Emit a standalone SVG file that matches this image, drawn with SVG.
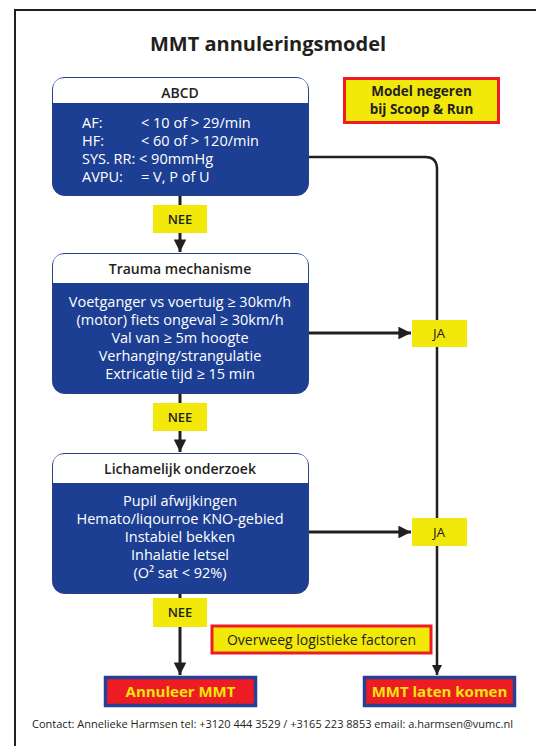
<svg xmlns="http://www.w3.org/2000/svg" width="536" height="746" viewBox="0 0 536 746">
<defs>
<style>
text{font-family:"Open Sans","DejaVu Sans",sans-serif;}
.title{font-size:20px;font-weight:bold;fill:#231f20;text-anchor:middle;}
.hdr{font-size:14px;font-weight:600;fill:#231f20;text-anchor:middle;}
.body{font-size:14.5px;fill:#ffffff;}
.c{text-anchor:middle;}
.box{fill:#1d3f93;stroke:#2a3f8a;stroke-width:1;}
.head{fill:#ffffff;}
.lbl{fill:#f2e90a;}
.lbltxt{font-size:13px;font-weight:600;fill:#231f20;text-anchor:middle;}
.ja{font-size:13.5px;fill:#231f20;text-anchor:middle;}
.warn{fill:#f2e90a;stroke:#ed1c24;stroke-width:3;}
.warntxt{font-size:13.5px;font-weight:bold;fill:#231f20;text-anchor:middle;}
.ovtxt{font-size:14px;fill:#231f20;text-anchor:middle;}
.end{fill:#ed1c24;stroke:#283f96;stroke-width:3.5;}
.endtxt{font-size:15px;font-weight:bold;fill:#f5e50a;text-anchor:middle;}
.ln{fill:none;stroke:#231f20;stroke-width:3;}
.ln2{fill:none;stroke:#231f20;stroke-width:2.5;}
</style>
<marker id="ah" viewBox="0 0 10 10" refX="10" refY="5" markerWidth="4.2" markerHeight="4.2" markerUnits="strokeWidth" orient="auto">
<path d="M0,0 L10,5 L0,10 Z" fill="#231f20"/>
</marker>
</defs>
<rect width="536" height="746" fill="#ffffff"/>
<path d="M15,746 L15,10 L536,10" fill="none" stroke="#231f20" stroke-width="2"/>
<text class="title" x="268" y="51">MMT annuleringsmodel</text>

<g id="connectors">
<path class="ln" d="M180,195 L180,206"/>
<path class="ln" d="M180,232 L180,252" marker-end="url(#ah)"/>
<path class="ln" d="M180,393 L180,404"/>
<path class="ln" d="M180,430 L180,452" marker-end="url(#ah)"/>
<path class="ln" d="M180,593 L180,599"/>
<path class="ln" d="M180,626 L180,675" marker-end="url(#ah)"/>
<path class="ln2" d="M309,157 L425,157 Q437,157 437,169 L437,675" marker-end="url(#ah)"/>
<path class="ln" d="M309,333 L411,333" marker-end="url(#ah)"/>
<path class="ln" d="M309,532 L411,532" marker-end="url(#ah)"/>
</g>

<g id="abcd">
<rect class="box" x="52.5" y="77.5" width="256" height="118" rx="12"/>
<path class="head" d="M53,103 L53,90 Q53,78 65,78 L296,78 Q308,78 308,90 L308,103 Z"/>
<text class="hdr" x="180" y="98">ABCD</text>
<text class="body" x="82" y="128">AF:</text><text class="body" x="141" y="128">&lt; 10 of &gt; 29/min</text>
<text class="body" x="82" y="146">HF:</text><text class="body" x="141" y="146">&lt; 60 of &gt; 120/min</text>
<text class="body" x="82" y="164">SYS. RR: &lt; 90mmHg</text>
<text class="body" x="82" y="182">AVPU:</text><text class="body" x="141" y="182">= V, P of U</text>
</g>

<g id="trauma">
<rect class="box" x="52.5" y="253.5" width="256" height="140" rx="12"/>
<path class="head" d="M53,283 L53,266 Q53,254 65,254 L296,254 Q308,254 308,266 L308,283 Z"/>
<text class="hdr" x="180" y="274">Trauma mechanisme</text>
<text class="body c" x="180" y="307">Voetganger vs voertuig ≥ 30km/h</text>
<text class="body c" x="180" y="325">(motor) fiets ongeval ≥ 30km/h</text>
<text class="body c" x="180" y="343">Val van ≥ 5m hoogte</text>
<text class="body c" x="180" y="361">Verhanging/strangulatie</text>
<text class="body c" x="180" y="379">Extricatie tijd ≥ 15 min</text>
</g>

<g id="lichamelijk">
<rect class="box" x="52.5" y="453.5" width="256" height="140" rx="12"/>
<path class="head" d="M53,483 L53,466 Q53,454 65,454 L296,454 Q308,454 308,466 L308,483 Z"/>
<text class="hdr" x="180" y="474">Lichamelijk onderzoek</text>
<text class="body c" x="180" y="506">Pupil afwijkingen</text>
<text class="body c" x="180" y="524">Hemato/liqourroe KNO-gebied</text>
<text class="body c" x="180" y="542">Instabiel bekken</text>
<text class="body c" x="180" y="560">Inhalatie letsel</text>
<text class="body c" x="180" y="578">(O² sat &lt; 92%)</text>
</g>

<g id="nee1"><rect class="lbl" x="153" y="205" width="54" height="28"/><text class="lbltxt" x="180" y="224">NEE</text></g>
<g id="nee2"><rect class="lbl" x="153" y="403" width="54" height="28"/><text class="lbltxt" x="180" y="422">NEE</text></g>
<g id="nee3"><rect class="lbl" x="153" y="598" width="54" height="29"/><text class="lbltxt" x="180" y="617">NEE</text></g>
<g id="ja1"><rect class="lbl" x="412" y="320" width="55" height="27"/><text class="ja" x="439" y="338">JA</text></g>
<g id="ja2"><rect class="lbl" x="412" y="518" width="55" height="28"/><text class="ja" x="439" y="537">JA</text></g>

<g id="model-negeren">
<rect class="warn" x="344.5" y="78.5" width="154" height="44"/>
<text class="warntxt" x="421.5" y="96">Model negeren</text>
<text class="warntxt" x="421.5" y="114">bij Scoop &amp; Run</text>
</g>

<g id="overweeg">
<rect class="warn" x="212" y="626" width="219" height="27" stroke-width="2.5"/>
<text class="ovtxt" x="321.5" y="645">Overweeg logistieke factoren</text>
</g>

<g id="annuleer">
<rect class="end" x="105.5" y="677.5" width="150" height="28"/>
<text class="endtxt" x="180.5" y="697">Annuleer MMT</text>
</g>

<g id="laten-komen">
<rect class="end" x="364.5" y="677.5" width="150" height="28"/>
<text class="endtxt" x="439.5" y="697">MMT laten komen</text>
</g>

<text x="32" y="728" font-size="11" fill="#231f20" textLength="481" lengthAdjust="spacingAndGlyphs">Contact: Annelieke Harmsen tel: +3120 444 3529 / +3165 223 8853 email: a.harmsen@vumc.nl</text>
</svg>
